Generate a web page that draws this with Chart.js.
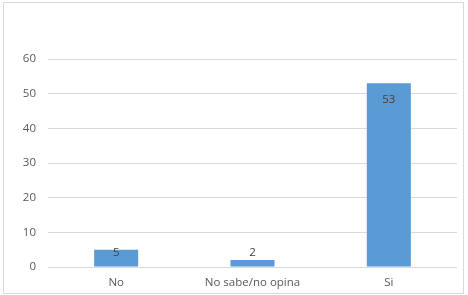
<!DOCTYPE html>
<html lang="es">
<head>
    <meta charset="UTF-8">
    <title>Respuestas</title>
    <script src="https://cdn.jsdelivr.net/npm/chart.js"></script>
    <style>
        body {
            margin: 0;
            background-color: #ffffff;
        }

        .frame {
            position: absolute;
            left: 3px;
            top: 2px;
            width: 459px;
            height: 290px;
            border: 1px solid #d9d9d9;
        }

        #chart-container {
            position: absolute;
            left: 0;
            top: 0;
            width: 468px;
            height: 295px;
        }
    </style>
</head>
<body>
    <div class="frame"></div>
    <div id="chart-container">
        <canvas id="barChart"></canvas>
    </div>

    <script>
        const categories = ['No', 'No sabe/no opina', 'Si'];
        const values = [5, 2, 53];
        const yTicks = [0, 10, 20, 30, 40, 50, 60];

        const textColor = '#595959';
        const fontFamily = '"Open Sans", "Liberation Sans", sans-serif';

        // etiquetas de valor, dentro del extremo de la barra (o encima si no cabe)
        const valueLabels = {
            id: 'valueLabels',
            afterDatasetsDraw(chart) {
                const ctx = chart.ctx;
                const meta = chart.getDatasetMeta(0);
                const base = chart.scales.y.getPixelForValue(0);
                ctx.save();
                ctx.font = '11.5px ' + fontFamily;
                ctx.fillStyle = '#404040';
                ctx.textAlign = 'center';
                ctx.textBaseline = 'middle';
                meta.data.forEach((bar, i) => {
                    const y = Math.min(bar.y + 16, base - 14);
                    ctx.fillText(String(values[i]), bar.x, y);
                });
                ctx.restore();
            }
        };

        const ctx = document.getElementById('barChart').getContext('2d');
        new Chart(ctx, {
            type: 'bar',
            data: {
                labels: categories,
                datasets: [{
                    data: values,
                    backgroundColor: '#5b9bd5',
                    borderWidth: 0,
                    categoryPercentage: 1,
                    barPercentage: 0.323
                }]
            },
            options: {
                responsive: true,
                maintainAspectRatio: false,
                animation: false,
                layout: {
                    padding: { left: 0, right: 11, top: 59, bottom: 0 }
                },
                plugins: {
                    legend: { display: false },
                    tooltip: { enabled: false }
                },
                scales: {
                    x: {
                        grid: { display: false, drawTicks: false },
                        border: { display: false },
                        ticks: {
                            color: textColor,
                            font: { size: 11.5, family: fontFamily },
                            padding: 9
                        },
                        afterFit: function(scale) {
                            scale.height = 28;
                        }
                    },
                    y: {
                        min: 0,
                        max: 60,
                        afterBuildTicks: function(scale) {
                            scale.ticks = yTicks.map(v => ({ value: v }));
                        },
                        grid: { color: '#d9d9d9', drawTicks: false },
                        border: { display: false },
                        ticks: {
                            color: textColor,
                            font: { size: 11.5, family: fontFamily },
                            padding: 12
                        },
                        afterFit: function(scale) {
                            scale.width = 48;
                        }
                    }
                }
            },
            plugins: [valueLabels]
        });
    </script>
</body>
</html>
